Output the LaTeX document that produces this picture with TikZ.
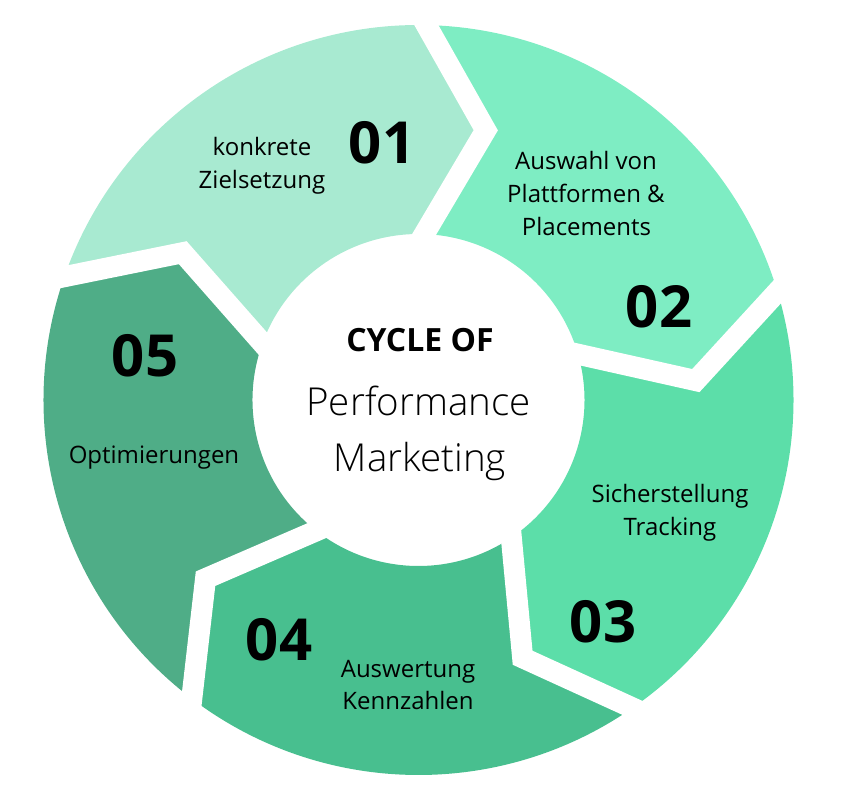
\documentclass[tikz,border=0pt]{standalone}
\usepackage{fontspec}
\setmainfont{Open Sans}
\IfFontExistsTF{Open Sans Light}{\newfontfamily\lightfont{Open Sans Light}}{\newfontfamily\lightfont{Open Sans}[Color=3A3A3A]}
\usetikzlibrary{calc}
\definecolor{cA}{HTML}{A8EAD1}
\definecolor{cB}{HTML}{7EEDC3}
\definecolor{cC}{HTML}{5CDEA9}
\definecolor{cD}{HTML}{48BF8F}
\definecolor{cE}{HTML}{4FAD87}
\tikzset{
  numlabel/.style={font=\fontsize{58}{60}\selectfont\bfseries, text=black, anchor=base, inner sep=0pt},
  steplabel/.style={font=\fontsize{24}{33}\selectfont, text=black, align=center, anchor=base, inner sep=0pt},
  gapline/.style={white, line width=21pt, line join=miter, line cap=butt}
}
\begin{document}
\begin{tikzpicture}[x=1pt,y=1pt]
\useasboundingbox (-418.5,-410) rectangle (423.5,400);
\def\Ro{375}\def\Ri{166}\def\Rm{278}
\foreach \i/\col in {1/cA,2/cB,3/cC,4/cD,5/cE}{
  \pgfmathsetmacro\s{88.8-72*(\i-2)}
  \pgfmathsetmacro\e{88.8-72*(\i-1)}
  \pgfmathsetmacro\et{\e-12.8}
  \pgfmathsetmacro\ei{\e-0.8}
  \pgfmathsetmacro\st{\s-12.8}
  \pgfmathsetmacro\si{\s-0.8}
  \fill[\col] (\s:\Ro) arc[start angle=\s,end angle=\e,radius=\Ro]
     -- (\et:\Rm) -- (\ei:\Ri) arc[start angle=\ei,end angle=\si,radius=\Ri]
     -- (\st:\Rm) -- cycle;
}
\foreach \k in {0,1,2,3,4}{
  \pgfmathsetmacro\b{88.8-72*\k}
  \pgfmathsetmacro\bt{\b-12.8}
  \pgfmathsetmacro\bi{\b-0.8}
  \coordinate (O\k) at (\b:\Ro);
  \coordinate (T\k) at (\bt:\Rm);
  \coordinate (I\k) at (\bi:\Ri);
  \draw[gapline] ($(T\k)!1.3!(O\k)$) -- (T\k) -- ($(T\k)!1.3!(I\k)$);
}
% centre texts
\node[font=\fontsize{32}{34}\selectfont\bfseries, anchor=base, inner sep=0pt] (cyc) at (1.5,48) {CYCLE OF};
\node[font=\fontsize{38.5}{42}\selectfont\lightfont, anchor=base, inner sep=0pt] (perf) at (0,-16) {Performance};
\node[font=\fontsize{38.5}{42}\selectfont\lightfont, anchor=base, inner sep=0pt] (mark) at (1.5,-71) {Marketing};
% numbers
\node[numlabel] (n1) at (-36.5,236) {01};
\node[numlabel] (n2) at (240.5,72) {02};
\node[numlabel] (n3) at (184.5,-242) {03};
\node[numlabel] (n4) at (-139.5,-260) {04};
\node[numlabel] (n5) at (-273.5,23) {05};
% step labels
\node[steplabel] (l1a) at (-156.5,244) {konkrete};
\node[steplabel] (l1b) at (-156.5,211) {Zielsetzung};
\node[steplabel] (l2a) at (167.5,230) {Auswahl von};
\node[steplabel] (l2b) at (167.5,197) {Plattformen \&};
\node[steplabel] (l2c) at (168,164) {Placements};
\node[steplabel] (l3a) at (251.5,-102) {Sicherstellung};
\node[steplabel] (l3b) at (251.5,-135) {Tracking};
\node[steplabel] (l4a) at (-10.5,-277) {Auswertung};
\node[steplabel] (l4b) at (-10.5,-309) {Kennzahlen};
\node[steplabel] (l5) at (-264.5,-64) {Optimierungen};
\end{tikzpicture}
\end{document}
